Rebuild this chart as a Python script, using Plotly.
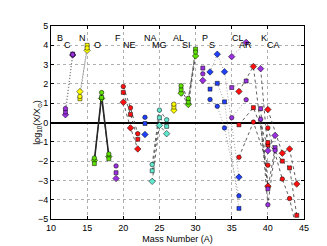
import plotly.graph_objects as go

# ---------------- data (mass number A, log10(X/Xsun) for three models) ----------------
# markers: circle / square / diamond models
C_A = [12, 13]
C_circ = [0.72, 3.52]
C_sq = [0.55, 3.55]
C_dia = [0.40, 3.50]

N_A = [14, 15]
N_circ = [1.35, 3.86]
N_sq = [1.23, 4.00]
N_dia = [1.60, 3.74]

O_A = [16, 17, 18]
O_circ = [-1.84, 1.55, -1.63]
O_sq = [-2.13, 1.30, -1.88]
O_dia = [-1.96, 1.25, -1.76]

F_A = [19]
F_circ = [-2.25]
F_sq = [-2.60]
F_dia = [-2.90]

Ne_A = [20, 21, 22]
Ne_circ = [1.86, 0.76, -0.58]
Ne_sq = [1.56, 0.42, -0.87]
Ne_dia = [1.05, -0.28, -1.37]

Na_A = [23]
Na_circ = [0.27]
Na_sq = [-0.05]
Na_dia = [-0.62]

Mg_A = [24, 25, 26]
Mg_circ = [-2.18, 0.64, 0.14]
Mg_sq = [-2.50, 0.25, -0.20]
Mg_dia = [-3.05, -0.15, -0.58]

Al_A = [27]
Al_circ = [0.95]
Al_sq = [0.80]
Al_dia = [0.64]

Si_A = [28, 29, 30]
Si_circ = [1.90, 1.25, 3.65]
Si_sq = [1.70, 1.06, 3.80]
Si_dia = [1.52, 0.93, 3.45]

P_A = [31]
P_circ = [2.52]
P_sq = [2.82]
P_dia = [2.18]

S_A = [32, 33, 34, 36]
S_circ = [1.19, 0.84, -0.28, -3.80]
S_sq = [1.73, 2.03, 1.07, -4.45]
S_dia = [2.62, 3.54, 2.63, -2.83]

Cl_A = [35, 37]
Cl_circ = [0.25, 1.18]
Cl_sq = [1.81, 2.15]
Cl_dia = [3.41, 4.15]

Ar_A = [36, 38, 40]
Ar_circ = [-1.80, 0.02, -2.21]
Ar_sq = [-0.12, 0.77, -1.17]
Ar_dia = [1.61, 2.90, -3.30]

K_A = [39, 40, 41]
K_circ = [0.17, -4.26, -1.45]
K_sq = [0.72, -3.44, -1.30]
K_dia = [2.79, -1.46, -0.67]

Ca_A = [40, 42, 43, 44]
Ca_circ = [-0.28, -2.93, -3.94, -5.60]
Ca_sq = [-1.04, -2.00, -2.35, -4.81]
Ca_dia = [0.67, -1.59, -1.37, -3.19]

label_text = ["B", "C", "N", "O", "F", "NE", "NA", "MG", "AL", "SI", "P", "S", "CL", "AR", "K", "CA"]
label_x = [11.2, 12.3, 14.3, 16.4, 19.3, 20.8, 23.8, 25.0, 27.7, 28.7, 31.3, 32.3, 35.8, 36.9, 39.5, 40.8]
label_y = [4.38, 4.0, 4.38, 4.0, 4.38, 4.0, 4.38, 4.0, 4.38, 4.0, 4.38, 4.0, 4.38, 4.0, 4.38, 4.0]

x_ticks = [10, 15, 20, 25, 30, 35, 40, 45]
y_ticks = [-5, -4, -3, -2, -1, 0, 1, 2, 3, 4, 5]

# ---------------- styles ----------------
PURPLE = "#9a30e0"
YELLOW = "#ffff00"
GREEN = "#5ee000"
RED = "#ff1010"
BLUE = "#2040ff"
CYAN = "#60e8d0"

elements = [
    (C_A, C_circ, C_sq, C_dia, PURPLE, "dot"),
    (N_A, N_circ, N_sq, N_dia, YELLOW, "dot"),
    (O_A, O_circ, O_sq, O_dia, GREEN, "solid"),
    (F_A, F_circ, F_sq, F_dia, PURPLE, "dot"),
    (Ne_A, Ne_circ, Ne_sq, Ne_dia, RED, "dash"),
    (Na_A, Na_circ, Na_sq, Na_dia, BLUE, "dot"),
    (Mg_A, Mg_circ, Mg_sq, Mg_dia, CYAN, "dash"),
    (Al_A, Al_circ, Al_sq, Al_dia, YELLOW, "dot"),
    (Si_A, Si_circ, Si_sq, Si_dia, GREEN, "dash"),
    (P_A, P_circ, P_sq, P_dia, PURPLE, "dot"),
    (S_A, S_circ, S_sq, S_dia, BLUE, "dot"),
    (Cl_A, Cl_circ, Cl_sq, Cl_dia, PURPLE, "dot"),
    (Ar_A, Ar_circ, Ar_sq, Ar_dia, RED, "dash"),
    (K_A, K_circ, K_sq, K_dia, PURPLE, "dash"),
    (Ca_A, Ca_circ, Ca_sq, Ca_dia, RED, "dash"),
]

fig = go.Figure()

# lines first
for A, yc, ys, yd, col, dash in elements:
    if len(A) < 2:
        continue
    if dash == "dot":
        lstyle = dict(color="#888888", width=0.8, dash="1px,2px")
    elif dash == "dash":
        lstyle = dict(color="#333333", width=0.8, dash="3px,3px")
    else:
        lstyle = dict(color="#222222", width=0.9)
    for yv in (yc, ys, yd):
        fig.add_trace(go.Scatter(x=A, y=yv, mode="lines", line=lstyle,
                                 hoverinfo="skip", showlegend=False))

# markers on top
for A, yc, ys, yd, col, dash in elements:
    for yv, sym, sz in ((yd, "diamond", 5), (ys, "square", 4), (yc, "circle", 4.5)):
        fig.add_trace(go.Scatter(x=A, y=yv, mode="markers",
                                 marker=dict(symbol=sym, size=sz, color=col,
                                             line=dict(color="#000000", width=0.5)),
                                 showlegend=False))

for t, x, y in zip(label_text, label_x, label_y):
    fig.add_annotation(x=x, y=y, xref="x", yref="y", text=t, showarrow=False,
                       font=dict(size=9, color="black"))

# y-axis title as a rotated annotation placed close to the tick labels
fig.add_annotation(x=-0.084, y=0.5, xref="paper", yref="paper",
                   text="log<sub>10</sub>(X/X<sub>⊙</sub>)", textangle=-90,
                   showarrow=False, font=dict(size=9, color="black"))

axis_common = dict(showline=True, mirror="ticks", linecolor="black", linewidth=1,
                   ticks="inside", ticklen=3, tickcolor="black",
                   showgrid=True, gridcolor="#b0b0b0", griddash="dot", gridwidth=0.7,
                   tickfont=dict(size=9, color="black"))

fig.update_xaxes(range=[10, 45], tickvals=x_ticks, zeroline=False,
                 title=dict(text="Mass Number (A)", font=dict(size=9, color="black"), standoff=3),
                 **axis_common)
fig.update_yaxes(range=[-5, 5], tickvals=y_ticks, zeroline=True,
                 zerolinecolor="black", zerolinewidth=1.5,
                 **axis_common)

fig.update_layout(width=327, height=246,
                  margin=dict(l=43, r=31, t=18, b=29),
                  paper_bgcolor="white", plot_bgcolor="white",
                  font=dict(family="Liberation Sans, Arial, sans-serif", size=9, color="black"),
                  showlegend=False)

fig.write_html("out.html")
